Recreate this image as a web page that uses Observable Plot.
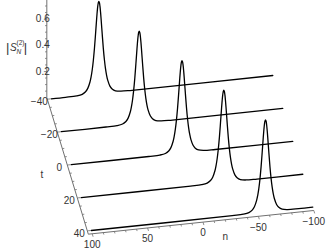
<!DOCTYPE html>
<html><head><meta charset="utf-8">
<script src="https://cdn.jsdelivr.net/npm/d3@7"></script>
<script src="https://cdn.jsdelivr.net/npm/@observablehq/plot@0.6"></script>
<style>body{margin:0;background:#fff;overflow:hidden}</style>
</head><body><div id="chart"></div>
<script>
// ---- data ----
const tValues = [-40, -20, 0, 20, 40];          // slices in t
const peakN   = [57, 29.6, 0, -28.7, -57.3];     // n position of each soliton peak
// peak profile: offset from peak in n and |S_N^(2)| value
const profileDn = [-30, -20, -15, -12, -10, -8, -7, -6, -5, -4, -3, -2, -1.5, -1, -0.5, 0, 0.5, 1, 1.5, 2, 3, 4, 5, 6, 7, 8, 10, 12, 15, 20, 30];
const profileZ  = [0, 0.002, 0.0095, 0.026, 0.05, 0.097, 0.135, 0.187, 0.257, 0.347, 0.457, 0.573, 0.625, 0.668, 0.695, 0.705, 0.695, 0.668, 0.625, 0.573, 0.457, 0.347, 0.257, 0.187, 0.135, 0.097, 0.05, 0.026, 0.0095, 0.002, 0];
const nRange = [100, -100];
const nTicks = [100, 50, 0, -50, -100];
const nTickLabels = ["100", "50", "0", "\u221250", "\u2212100"];
const tTicks = [-40, -20, 0, 20, 40];
const tTickLabels = ["\u221240", "\u221220", "0", "20", "40"];
const zTicks = [0.2, 0.4, 0.6];
const zTickLabels = ["0.2", "0.4", "0.6"];

// ---- 3D view (orthographic projection) ----
const view = {x0: 50.7, y0: 98.3, nx: 1.108, ny: 0.1165, tx: 0.5, ty: 1.646, zy: 131};
function proj(n, t, z) {
  return {
    x: view.x0 + (100 - n) * view.nx + (t + 40) * view.tx,
    y: view.y0 - (100 - n) * view.ny + (t + 40) * view.ty - z * view.zy
  };
}
const box = {nEdge: 103.5, tFront: 42, tBack: -41, zTop: 0.75};

// curves
const curves = [];
tValues.forEach((t, i) => {
  const pts = [{n: nRange[0], z: 0}, {n: nRange[1], z: 0}];
  profileDn.forEach((dn, j) => {
    const n = peakN[i] + dn;
    if (n < nRange[0] && n > nRange[1]) pts.push({n, z: profileZ[j]});
  });
  pts.sort((a, b) => b.n - a.n);
  pts.forEach(p => { const q = proj(p.n, t, p.z); curves.push({t, x: q.x, y: q.y}); });
});

// axes
const axisLines = [];
const addSeg = (a, b, w, c) => axisLines.push({x1: a.x, y1: a.y, x2: b.x, y2: b.y, w: w || 1, c: c || "#707070"});
addSeg(proj(box.nEdge, box.tFront, 0), proj(nRange[1], box.tFront, 0));
addSeg(proj(box.nEdge, box.tBack, 0), proj(box.nEdge, box.tFront, 0));
addSeg(proj(box.nEdge, box.tBack, 0), proj(box.nEdge, box.tBack, box.zTop));
// ticks
d3.range(-100, 101, 10).forEach(n => {
  const major = nTicks.includes(n);
  addSeg(proj(n, box.tFront, 0), proj(n, box.tFront + (major ? 1.8 : 1.2), 0), 0.8);
});
d3.range(-40, 41, 5).forEach(t => {
  const major = tTicks.includes(t);
  addSeg(proj(box.nEdge, t, 0), proj(box.nEdge - (major ? 2.7 : 1.8), t, 0), 0.8);
});
d3.range(0.05, 0.71, 0.05).forEach(z => {
  const major = zTicks.some(v => Math.abs(v - z) < 1e-6);
  addSeg(proj(box.nEdge, box.tBack, z), proj(box.nEdge + (major ? 2.7 : 1.6), box.tBack, z), 0.8);
});

const labels = [];
nTicks.forEach((n, i) => { const p = proj(n, box.tFront, 0); labels.push({x: p.x, y: p.y + 11, text: nTickLabels[i], anchor: "start"}); });
tTicks.forEach((t, i) => { const p = proj(box.nEdge, t, 0); labels.push({x: p.x - 8, y: p.y + 3, text: tTickLabels[i], anchor: "end"}); });
zTicks.forEach((z, i) => { const p = proj(box.nEdge, box.tBack, z); labels.push({x: p.x - 4, y: p.y, text: zTickLabels[i], anchor: "end"}); });
const nLab = proj(-20, box.tFront, 0);
labels.push({x: nLab.x, y: nLab.y + 17, text: "n", anchor: "middle"});
const tLab = proj(box.nEdge, 3, 0);
labels.push({x: tLab.x - 27, y: tLab.y + 5, text: "t", anchor: "middle"});

const chart = Plot.plot({
  width: 332, height: 249, margin: 0,
  style: {fontFamily: "'Liberation Sans', Arial, sans-serif", fontSize: "10px", background: "#fff"},
  x: {domain: [0, 332], range: [0, 332], axis: null},
  y: {domain: [0, 249], range: [0, 249], axis: null},
  marks: [
    Plot.link(axisLines, {x1: "x1", y1: "y1", x2: "x2", y2: "y2", stroke: "c", strokeWidth: "w"}),
    Plot.line(curves, {x: "x", y: "y", z: "t", stroke: "black", strokeWidth: 1.3, curve: "catmull-rom"}),
    Plot.text(labels, {x: "x", y: "y", text: "text", textAnchor: "anchor", fill: "#333", fontSize: 10})
  ]
});
document.getElementById("chart").appendChild(chart);

// y-axis title |S_N^(2)| as one text element with tspans
const svg = d3.select(chart);
const title = svg.append("text")
  .attr("x", 6).attr("y", 52)
  .attr("text-anchor", "start")
  .attr("fill", "#333")
  .attr("font-family", "'Liberation Sans', Arial, sans-serif")
  .attr("font-size", 10);
title.append("tspan").attr("font-size", 13).text("|");
title.append("tspan").attr("font-style", "italic").attr("dx", 0.5).attr("dy", -1).text("S");
title.append("tspan").attr("font-size", 6.5).attr("dy", -6).text("(2)");
title.append("tspan").attr("font-size", 6.5).attr("font-style", "italic").attr("dx", -8).attr("dy", 9).text("N");
title.append("tspan").attr("font-size", 13).attr("dx", 2.5).attr("dy", -2).text("|");
</script>
</body></html>
